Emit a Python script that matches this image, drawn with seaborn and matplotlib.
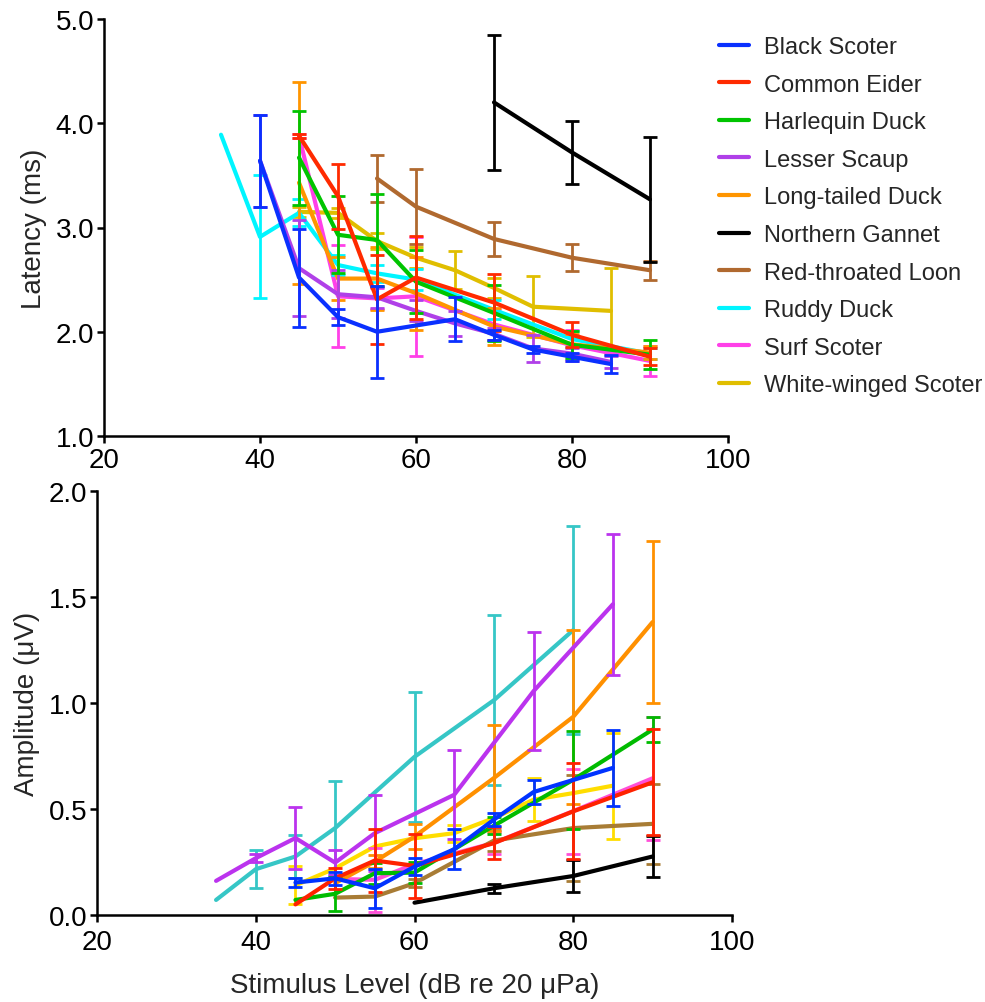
import numpy as np
import pandas as pd
import matplotlib
matplotlib.use("Agg")
import matplotlib.pyplot as plt
from matplotlib.lines import Line2D
import seaborn as sns

sns.set_theme(style="ticks")
plt.rcParams['font.family'] = ['Liberation Sans', 'DejaVu Sans']

species = ["Black Scoter", "Common Eider", "Harlequin Duck", "Lesser Scaup",
           "Long-tailed Duck", "Northern Gannet", "Red-throated Loon",
           "Ruddy Duck", "Surf Scoter", "White-winged Scoter"]

colors_top = ["#0A30FF", "#FF2A00", "#00C400", "#B040E8", "#FF9500",
              "#000000", "#B0692F", "#00F5FF", "#FF40E8", "#E0BE00"]
colors_bot = ["#0033FF", "#FF2200", "#00BB00", "#BB33EE", "#FF9000",
              "#000000", "#A87C35", "#36C6C6", "#FF4FD8", "#FFDD00"]

nan = np.nan

# ---- Latency (ms): level, mean, SD ----
lat_black_scoter_x = [40, 45, 50, 55, 65, 70, 75, 80, 85]
lat_black_scoter_y = [3.64, 2.52, 2.14, 2.00, 2.12, 1.97, 1.83, 1.76, 1.69]
lat_black_scoter_sd = [0.44, 0.47, 0.08, 0.44, 0.21, 0.05, 0.03, 0.04, 0.09]

lat_common_eider_x = [45, 50, 55, 60, 70, 80, 90]
lat_common_eider_y = [3.88, 3.30, 2.31, 2.52, 2.28, 1.97, 1.76]
lat_common_eider_sd = [0.02, 0.31, 0.43, 0.40, 0.27, 0.12, 0.08]

lat_harlequin_x = [45, 50, 55, 60, 70, 80, 90]
lat_harlequin_y = [3.67, 2.93, 2.88, 2.48, 2.18, 1.875, 1.78]
lat_harlequin_sd = [0.45, 0.37, 0.44, 0.30, 0.27, 0.13, 0.14]

lat_lesser_scaup_x = [40, 45, 50, 55, 60, 65, 70, 75, 80, 85]
lat_lesser_scaup_y = [3.64, 2.61, 2.36, 2.33, 2.20, 2.08, 1.98, 1.84, 1.79, 1.71]
lat_lesser_scaup_sd = [0.44, 0.46, 0.23, 0.10, 0.10, 0.12, 0.06, 0.13, 0.05, 0.06]

lat_longtailed_x = [45, 50, 55, 60, 70, 80, 90]
lat_longtailed_y = [3.43, 2.51, 2.51, 2.37, 2.05, 1.88, 1.80]
lat_longtailed_sd = [0.97, 0.21, 0.30, 0.35, 0.18, 0.10, 0.06]

lat_gannet_x = [70, 80, 90]
lat_gannet_y = [4.20, 3.72, 3.27]
lat_gannet_sd = [0.65, 0.30, 0.60]

lat_loon_x = [55, 60, 70, 80, 90]
lat_loon_y = [3.47, 3.20, 2.89, 2.71, 2.59]
lat_loon_sd = [0.23, 0.36, 0.16, 0.13, 0.09]

lat_ruddy_x = [35, 40, 45, 50, 55, 60, 70, 80, 90]
lat_ruddy_y = [3.89, 2.91, 3.14, 2.64, 2.56, 2.50, 2.21, 1.93, 1.79]
lat_ruddy_sd = [nan, 0.59, 0.13, 0.10, 0.08, 0.10, 0.09, 0.08, 0.05]

lat_surf_x = [45, 50, 55, 60, 70, 80, 90]
lat_surf_y = [3.88, 2.34, 2.32, 2.34, 2.07, 1.87, 1.72]
lat_surf_sd = [0.02, 0.49, 0.10, 0.57, 0.15, 0.15, 0.14]

lat_whitewinged_x = [45, 50, 55, 60, 65, 70, 75, 85]
lat_whitewinged_y = [3.15, 3.14, 2.87, 2.71, 2.59, 2.42, 2.24, 2.20]
lat_whitewinged_sd = [0.05, 0.05, 0.08, 0.10, 0.18, 0.10, 0.29, 0.41]

# ---- Amplitude (uV): level, mean, SD ----
amp_black_scoter_x = [45, 50, 55, 60, 65, 70, 75, 85]
amp_black_scoter_y = [0.153, 0.173, 0.126, 0.228, 0.31, 0.45, 0.58, 0.694]
amp_black_scoter_sd = [0.02, 0.03, 0.092, 0.04, 0.095, 0.03, 0.056, 0.18]

amp_common_eider_x = [45, 50, 55, 60, 70, 80, 90]
amp_common_eider_y = [0.05, 0.173, 0.257, 0.232, 0.339, 0.489, 0.626]
amp_common_eider_sd = [nan, 0.05, 0.15, 0.152, 0.075, 0.226, 0.25]

amp_harlequin_x = [45, 50, 55, 60, 70, 80, 90]
amp_harlequin_y = [0.071, 0.10, 0.197, 0.20, 0.421, 0.638, 0.875]
amp_harlequin_sd = [nan, 0.08, 0.05, 0.05, 0.04, 0.23, 0.06]

amp_lesser_scaup_x = [35, 40, 45, 50, 55, 65, 75, 85]
amp_lesser_scaup_y = [0.161, 0.268, 0.363, 0.247, 0.386, 0.567, 1.056, 1.466]
amp_lesser_scaup_sd = [nan, 0.02, 0.148, 0.06, 0.18, 0.21, 0.28, 0.333]

amp_longtailed_x = [50, 55, 60, 70, 80, 90]
amp_longtailed_y = [0.15, 0.252, 0.37, 0.646, 0.935, 1.382]
amp_longtailed_sd = [nan, 0.03, 0.06, 0.25, 0.41, 0.384]

amp_gannet_x = [60, 70, 80, 90]
amp_gannet_y = [0.058, 0.126, 0.184, 0.276]
amp_gannet_sd = [nan, 0.02, 0.075, 0.095]

amp_loon_x = [50, 55, 60, 70, 80, 90]
amp_loon_y = [0.082, 0.087, 0.15, 0.351, 0.41, 0.43]
amp_loon_sd = [nan, nan, 0.02, 0.05, 0.25, 0.19]

amp_ruddy_x = [35, 40, 45, 50, 60, 70, 80]
amp_ruddy_y = [0.071, 0.216, 0.276, 0.41, 0.746, 1.013, 1.344]
amp_ruddy_sd = [nan, 0.09, 0.10, 0.22, 0.305, 0.40, 0.49]

amp_surf_x = [50, 55, 60, 70, 80, 90]
amp_surf_y = [0.17, 0.166, 0.24, 0.34, 0.49, 0.645]
amp_surf_sd = [nan, 0.15, nan, 0.05, 0.20, 0.29]

amp_whitewinged_x = [45, 50, 55, 60, 65, 70, 75, 80, 85]
amp_whitewinged_y = [0.14, 0.22, 0.323, 0.362, 0.386, 0.457, 0.544, 0.575, 0.61]
amp_whitewinged_sd = [0.09, nan, nan, nan, 0.04, nan, 0.10, nan, 0.25]

lat_series = [
    (lat_black_scoter_x, lat_black_scoter_y, lat_black_scoter_sd),
    (lat_common_eider_x, lat_common_eider_y, lat_common_eider_sd),
    (lat_harlequin_x, lat_harlequin_y, lat_harlequin_sd),
    (lat_lesser_scaup_x, lat_lesser_scaup_y, lat_lesser_scaup_sd),
    (lat_longtailed_x, lat_longtailed_y, lat_longtailed_sd),
    (lat_gannet_x, lat_gannet_y, lat_gannet_sd),
    (lat_loon_x, lat_loon_y, lat_loon_sd),
    (lat_ruddy_x, lat_ruddy_y, lat_ruddy_sd),
    (lat_surf_x, lat_surf_y, lat_surf_sd),
    (lat_whitewinged_x, lat_whitewinged_y, lat_whitewinged_sd),
]
amp_series = [
    (amp_black_scoter_x, amp_black_scoter_y, amp_black_scoter_sd),
    (amp_common_eider_x, amp_common_eider_y, amp_common_eider_sd),
    (amp_harlequin_x, amp_harlequin_y, amp_harlequin_sd),
    (amp_lesser_scaup_x, amp_lesser_scaup_y, amp_lesser_scaup_sd),
    (amp_longtailed_x, amp_longtailed_y, amp_longtailed_sd),
    (amp_gannet_x, amp_gannet_y, amp_gannet_sd),
    (amp_loon_x, amp_loon_y, amp_loon_sd),
    (amp_ruddy_x, amp_ruddy_y, amp_ruddy_sd),
    (amp_surf_x, amp_surf_y, amp_surf_sd),
    (amp_whitewinged_x, amp_whitewinged_y, amp_whitewinged_sd),
]

x_ticks = [20, 40, 60, 80, 100]
lat_ticks = [1.0, 2.0, 3.0, 4.0, 5.0]
amp_ticks = [0.0, 0.5, 1.0, 1.5, 2.0]


def to_df(series):
    rows = []
    for name, (xs, ys, sds) in zip(species, series):
        for x, y, s in zip(xs, ys, sds):
            rows.append({"species": name, "level": x, "value": y, "sd": s})
    return pd.DataFrame(rows)


def draw(ax, series, colors):
    df = to_df(series)
    pal = dict(zip(species, colors))
    order = species[::-1]
    for i, name in enumerate(order):
        sub = df[df.species == name]
        z = 2 + i
        sns.lineplot(data=sub, x="level", y="value", color=pal[name], ax=ax,
                     estimator=None, errorbar=None, sort=True, lw=3.0,
                     legend=False, zorder=z)
        e = sub.dropna(subset=["sd"])
        ax.errorbar(e["level"], e["value"], yerr=e["sd"], fmt="none",
                    ecolor=pal[name], elinewidth=2.0, capsize=5, capthick=2.0,
                    zorder=z, clip_on=False)


def style(ax, yt, fmt, xpad):
    sns.despine(ax=ax)
    for s in ["left", "bottom"]:
        ax.spines[s].set_linewidth(1.8)
        ax.spines[s].set_color("black")
    ax.set_xlim(20, 100)
    ax.set_xticks(x_ticks)
    ax.set_yticks(yt)
    ax.set_yticklabels([fmt.format(v) for v in yt])
    ax.set_ylim(yt[0], yt[-1])
    ax.tick_params(axis="both", direction="out", length=5, width=1.8,
                   labelsize=20, colors="black", pad=2)
    ax.tick_params(axis="x", pad=xpad)


fig = plt.figure(figsize=(9.85, 10.03), dpi=100)
ax1 = fig.add_axes([104 / 985, 1 - 437 / 1003, 624 / 985, 417 / 1003])
ax2 = fig.add_axes([97 / 985, 1 - 916 / 1003, 635 / 985, 424 / 1003])

draw(ax1, lat_series, colors_top)
draw(ax2, amp_series, colors_bot)
style(ax1, lat_ticks, "{:.1f}", 3)
style(ax2, amp_ticks, "{:.1f}", 5)

ax1.set_xlabel("")
ax1.set_ylabel("Latency (ms)", fontsize=20, labelpad=6)
ax2.set_ylabel("Amplitude (μV)", fontsize=20, labelpad=6)
ax2.set_xlabel("Stimulus Level (dB re 20 μPa)", fontsize=20, labelpad=12)

handles = [Line2D([], [], color=c, lw=3) for c in colors_top]
fig.legend(handles, species, loc="upper left",
           bbox_to_anchor=(719 / 985, 1 - 37 / 1003), frameon=False,
           fontsize=17, handlelength=1.27, handletextpad=0.62,
           labelspacing=0.66, borderaxespad=0, borderpad=0)

fig.savefig("out.png", dpi=100)
